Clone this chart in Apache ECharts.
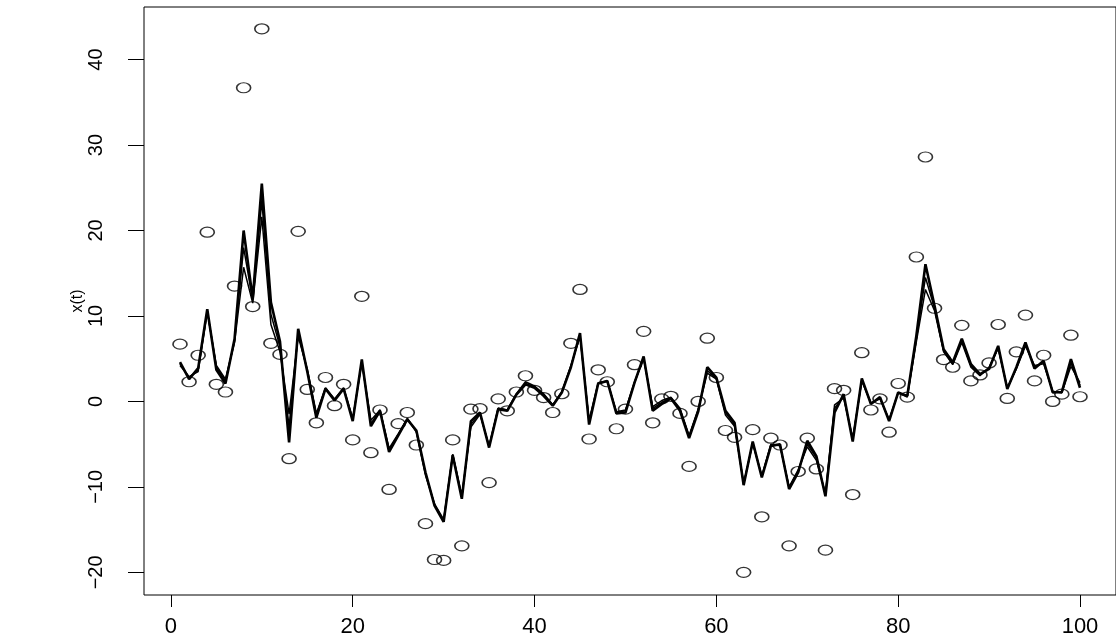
<!DOCTYPE html>
<html>
<head>
<meta charset="utf-8">
<script src="https://cdn.jsdelivr.net/npm/echarts@6/dist/echarts.min.js"></script>
<style>
html,body{margin:0;padding:0;background:#fff;}
#chart{width:1116px;height:642px;}
</style>
</head>
<body>
<div id="chart"></div>
<script>
// time index
const timeIdx = [1,2,3,4,5,6,7,8,9,10,11,12,13,14,15,16,17,18,19,20,21,22,23,24,25,26,27,28,29,30,31,32,33,34,35,36,37,38,39,40,41,42,43,44,45,46,47,48,49,50,51,52,53,54,55,56,57,58,59,60,61,62,63,64,65,66,67,68,69,70,71,72,73,74,75,76,77,78,79,80,81,82,83,84,85,86,87,88,89,90,91,92,93,94,95,96,97,98,99,100];

// observations (open circles)
const observed = [6.7,2.3,5.4,19.8,2.0,1.1,13.5,36.7,11.1,43.6,6.8,5.5,-6.7,19.9,1.4,-2.5,2.8,-0.5,2.0,-4.5,12.3,-6.0,-1.0,-10.3,-2.6,-1.3,-5.1,-14.3,-18.5,-18.6,-4.5,-16.9,-0.9,-0.85,-9.5,0.3,-1.1,1.1,3.0,1.3,0.45,-1.3,0.9,6.8,13.1,-4.4,3.7,2.3,-3.2,-0.9,4.3,8.2,-2.5,0.3,0.6,-1.4,-7.6,0.0,7.4,2.8,-3.4,-4.2,-20.0,-3.3,-13.5,-4.3,-5.1,-16.9,-8.2,-4.3,-7.9,-17.4,1.5,1.3,-10.9,5.7,-1.0,0.3,-3.6,2.1,0.5,16.9,28.6,10.9,4.9,4.0,8.9,2.4,3.1,4.5,9.0,0.35,5.8,10.1,2.4,5.4,0.0,0.85,7.75,0.55];

// estimated state paths (black lines)
const estimateA = [4.6,2.6,3.9,10.8,3.7,2.1,7.3,20.0,12.0,25.5,11.6,7.0,-4.8,8.5,3.5,-1.9,1.5,0.1,1.5,-2.3,4.9,-2.9,-1.1,-5.9,-4.0,-2.1,-3.4,-8.3,-12.2,-14.1,-6.3,-11.4,-2.3,-1.3,-5.4,-0.9,-1.1,0.8,2.0,1.6,0.65,-0.5,1.05,4.0,8.0,-2.7,2.1,2.4,-1.4,-1.3,2.2,5.25,-1.1,-0.3,0.35,-1.1,-4.3,-1.2,4.0,2.8,-1.1,-2.5,-9.8,-4.7,-8.9,-5.2,-5.0,-10.25,-8.3,-4.6,-6.4,-11.1,-1.3,0.85,-4.7,2.7,-0.3,0.5,-2.3,1.05,0.65,7.7,16.05,11.2,6.1,4.55,7.35,4.35,3.2,3.8,6.5,1.45,4.0,6.9,3.85,4.75,1.05,1.1,4.95,1.6];
const estimateB = [4.2,2.9,3.5,10.5,4.2,2.6,6.9,15.7,11.5,21.6,9.0,5.8,-1.5,7.6,3.8,-1.4,1.6,0.3,1.6,-2.0,4.5,-2.2,-1.0,-5.5,-3.8,-2.0,-3.6,-8.6,-12.0,-13.8,-6.2,-11.0,-3.0,-1.5,-5.2,-0.8,-1.0,0.9,2.3,1.8,0.9,-0.4,1.1,4.2,7.6,-2.2,2.2,2.4,-1.2,-1.0,2.3,5.0,-0.6,0.1,0.5,-0.8,-4.0,-0.9,3.3,2.6,-1.6,-2.9,-9.6,-4.9,-8.7,-5.0,-5.2,-10.0,-8.0,-5.3,-6.9,-10.8,-0.4,0.4,-4.3,2.4,-0.2,0.3,-2.1,1.0,0.5,7.0,13.1,10.6,5.8,4.3,6.9,4.0,3.0,4.0,6.2,1.6,3.8,6.5,4.2,4.4,1.2,1.0,4.1,2.2];
const estimateC = [4.4,2.8,3.7,10.6,4.0,2.4,7.1,18.0,11.8,23.5,10.2,6.4,-3.0,8.0,3.6,-1.6,1.5,0.2,1.5,-2.1,4.7,-2.6,-1.0,-5.7,-3.9,-2.0,-3.5,-8.4,-12.1,-14.0,-6.2,-11.2,-2.7,-1.4,-5.3,-0.8,-1.0,0.8,2.1,1.7,0.8,-0.4,1.1,4.1,7.8,-2.4,2.1,2.4,-1.3,-1.1,2.2,5.1,-0.8,-0.1,0.4,-0.9,-4.1,-1.0,3.6,2.7,-1.3,-2.7,-9.7,-4.8,-8.8,-5.1,-5.1,-10.1,-8.1,-5.0,-6.6,-10.9,-0.8,0.6,-4.5,2.5,-0.2,0.4,-2.2,1.0,0.6,7.3,14.5,10.9,5.9,4.4,7.1,4.2,3.1,3.9,6.3,1.5,3.9,6.7,4.0,4.6,1.1,1.0,4.5,1.9];

// axis ticks
const xTicks = [0,20,40,60,80,100];
const yTicks = [-20,-10,0,10,20,30,40];
const yLabel = 'x(t)';

const pair = arr => timeIdx.map((t, i) => [t, arr[i]]);

const chart = echarts.init(document.getElementById('chart'), null, {renderer: 'canvas'});
const font = "'Liberation Sans', Arial, Helvetica, sans-serif";
const lineSeries = (arr, w) => ({
  type: 'line', data: pair(arr), symbol: 'none', silent: true, animation: false,
  lineStyle: {color: '#000', width: w}, z: 3
});
chart.setOption({
  animation: false,
  backgroundColor: '#fff',
  grid: {left: 144, top: 7, width: 981, height: 588, show: true, borderColor: '#000', borderWidth: 1, backgroundColor: 'transparent'},
  xAxis: {
    type: 'value', min: -2.96, max: 103.96,
    axisLine: {show: false, onZero: false},
    splitLine: {show: false},
    axisTick: {show: true, inside: false, length: 12, customValues: xTicks, lineStyle: {color: '#000', width: 1}},
    axisLabel: {customValues: xTicks, color: '#000', fontSize: 22, fontFamily: font, margin: 21}
  },
  yAxis: {
    type: 'value', min: -22.65, max: 46.15,
    name: yLabel, nameLocation: 'middle', nameGap: 58, nameRotate: 90, nameMoveOverlap: false,
    nameTextStyle: {color: '#000', fontSize: 16, fontFamily: font},
    axisLine: {show: false, onZero: false},
    splitLine: {show: false},
    axisTick: {show: true, inside: false, length: 16, customValues: yTicks, lineStyle: {color: '#000', width: 1}},
    axisLabel: {customValues: yTicks, color: '#000', fontSize: 20, fontFamily: font, rotate: 90, margin: 38,
      formatter: v => String(v).replace('-', '\u2212')}
  },
  series: [
    {
      type: 'scatter', data: pair(observed),
      symbol: 'path://M0,5 A10,5 0 1,1 20,5 A10,5 0 1,1 0,5 Z',
      symbolSize: [14, 10],
      itemStyle: {color: 'rgba(0,0,0,0)', borderColor: '#000', borderWidth: 1.4},
      silent: true, z: 2
    },
    lineSeries(estimateB, 1.5),
    lineSeries(estimateC, 1.5),
    lineSeries(estimateA, 2.6)
  ]
});
</script>
</body>
</html>
